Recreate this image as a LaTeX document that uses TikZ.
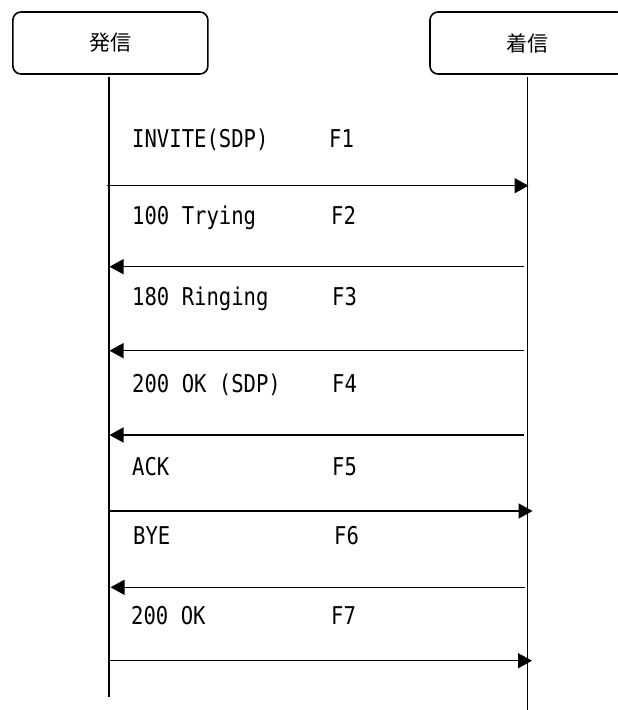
\documentclass[tikz,border=0pt]{standalone}
\usepackage{fontspec}
\newfontfamily\jpfont{Noto Sans CJK JP}
\newfontfamily\labfont[FakeStretch=0.84]{DejaVu Sans Mono}
\usetikzlibrary{arrows.meta}
\tikzset{
  actor/.style={draw, line width=1.6pt, rounded corners=8pt, minimum width=195pt, minimum height=62pt, inner sep=0pt, font=\jpfont\fontsize{21}{24}\selectfont},
  life/.style={line width=1.5pt},
  msg/.style={line width=1.5pt, -{Triangle[length=14pt,width=15pt]}},
  lab/.style={anchor=base west, inner sep=0pt, font=\labfont\fontsize{24.5}{28}\selectfont},
}
\begin{document}
\begin{tikzpicture}[x=1pt,y=-1pt]
\useasboundingbox (0,0) rectangle (618,710);
\clip (0,0) rectangle (618,710);
% actors
\node[actor] (caller) at (110.4,43) {発信};
\node[actor] (callee) at (527.5,43) {着信};
% lifelines
\coordinate (cbot) at (109,697);
\coordinate (ebot) at (527.7,710);
\draw[life] (109,77) coordinate (ctop) -- (cbot);
\draw[life] (527.7,77) coordinate (etop) -- (ebot);
% message end points
\coordinate (m1s) at (107,185.7);   \coordinate (m1e) at (528.5,185.7);
\coordinate (m2s) at (524,266.7);   \coordinate (m2e) at (109.5,266.7);
\coordinate (m3s) at (524,350.7);   \coordinate (m3e) at (109.5,350.7);
\coordinate (m4s) at (524,435);     \coordinate (m4e) at (109.5,435);
\coordinate (m5s) at (109,511);     \coordinate (m5e) at (532.5,511);
\coordinate (m6s) at (525,587.3);   \coordinate (m6e) at (110.5,587.3);
\coordinate (m7s) at (109,660.7);   \coordinate (m7e) at (532,660.7);
\draw[msg] (m1s) -- (m1e);
\draw[msg] (m2s) -- (m2e);
\draw[msg] (m3s) -- (m3e);
\draw[msg] (m4s) -- (m4e);
\draw[msg] (m5s) -- (m5e);
\draw[msg] (m6s) -- (m6e);
\draw[msg] (m7s) -- (m7e);
% labels
\node[lab] (l1) at (132,147) {INVITE(SDP)};
\node[lab] (f1) at (329,147) {F1};
\node[lab] (l2) at (132,224) {100 Trying};
\node[lab] (f2) at (331,224) {F2};
\node[lab] (l3) at (132,305) {180 Ringing};
\node[lab] (f3) at (332,305) {F3};
\node[lab] (l4) at (132,392) {200 OK (SDP)};
\node[lab] (f4) at (332,392) {F4};
\node[lab] (l5) at (132,475) {ACK};
\node[lab] (f5) at (332,475) {F5};
\node[lab] (l6) at (133,544) {BYE};
\node[lab] (f6) at (334,544) {F6};
\node[lab] (l7) at (131,624) {200 OK};
\node[lab] (f7) at (331,624) {F7};
\end{tikzpicture}
\end{document}
